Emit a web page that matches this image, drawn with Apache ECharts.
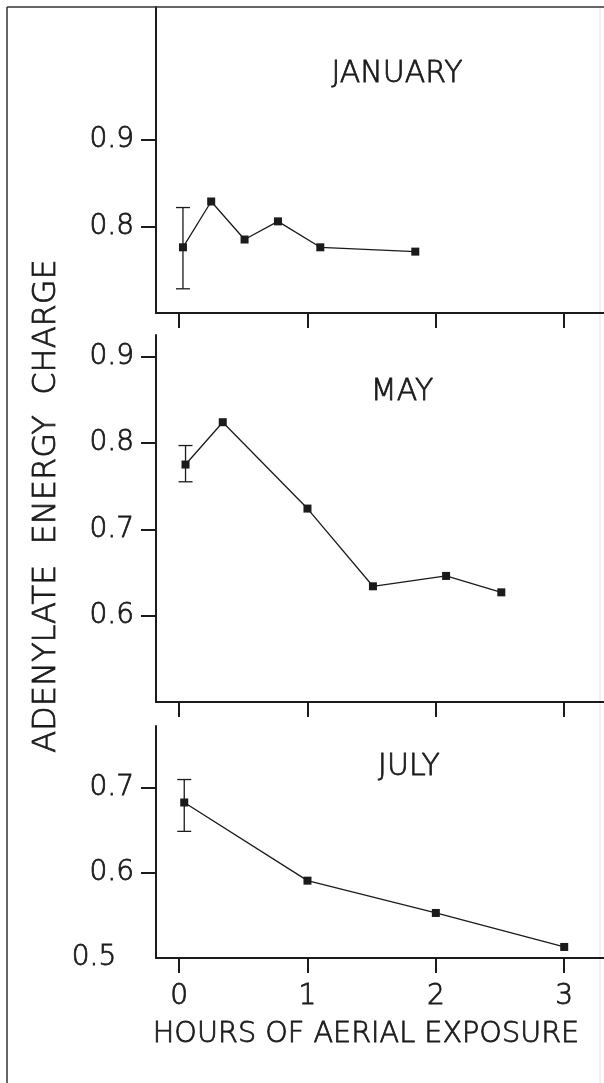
<!DOCTYPE html>
<html>
<head>
<meta charset="utf-8">
<script src="https://cdn.jsdelivr.net/npm/echarts@6/dist/echarts.min.js"></script>
<style>
html,body{margin:0;padding:0;background:#fff;}
#chart{width:604px;height:1083px;}
</style>
</head>
<body>
<div id="chart"></div>
<script>
// ---- data ----
const panelTitles = ['JANUARY', 'MAY', 'JULY'];
const xTicks = [0, 1, 2, 3];

const janX = [0.03, 0.25, 0.51, 0.77, 1.10, 1.84];
const janY = [0.776, 0.829, 0.785, 0.806, 0.776, 0.771];
const janErr = [0.03, 0.728, 0.822];   // [x, low, high]

const mayX = [0.05, 0.34, 1.00, 1.51, 2.08, 2.51];
const mayY = [0.775, 0.824, 0.724, 0.634, 0.646, 0.627];
const mayErr = [0.05, 0.755, 0.797];

const julX = [0.04, 1.00, 2.00, 3.00];
const julY = [0.683, 0.591, 0.553, 0.513];
const julErr = [0.04, 0.649, 0.710];

const janYTicks = [0.8, 0.9];
const mayYTicks = [0.6, 0.7, 0.8, 0.9];
const julYTicks = [0.6, 0.7];
const julYLabels = [0.5, 0.6, 0.7];

const xTitle = 'HOURS OF AERIAL EXPOSURE';
const yTitle = 'ADENYLATE  ENERGY  CHARGE';

// ---- styling ----
const INK = '#1c1a1a';
const FONT = "'DejaVu Sans', sans-serif";
const WEIGHT = 200;
const TB = 0.8; // slight text stroke to match the scanned glyph weight

function pairs(xs, ys) { return xs.map((x, i) => [x, ys[i]]); }

function makeGrid(top, height) {
  return { left: 156, top: top, width: 448, height: height, containLabel: false, outerBoundsMode: 'none' };
}

function makeX(idx, showLabels) {
  return {
    type: 'value', gridIndex: idx, min: -0.18, max: 3.31,
    splitLine: { show: false },
    axisLine: { show: true, onZero: false, lineStyle: { color: INK, width: 2 } },
    axisTick: { show: true, inside: false, length: 15, customValues: xTicks, lineStyle: { color: INK, width: 2 } },
    axisLabel: {
      show: showLabels, customValues: xTicks, margin: 25,
      fontFamily: FONT, fontSize: 28, fontWeight: WEIGHT, color: INK,
      textBorderColor: INK, textBorderWidth: TB,
      formatter: v => String(v)
    }
  };
}

function makeY(idx, min, max, ticks, labels) {
  return {
    type: 'value', gridIndex: idx, min: min, max: max,
    splitLine: { show: false },
    axisLine: { show: true, onZero: false, lineStyle: { color: INK, width: 2 } },
    axisTick: { show: true, inside: false, length: 15, customValues: ticks, lineStyle: { color: INK, width: 2 } },
    axisLabel: {
      show: true, customValues: labels, margin: 22,
      fontFamily: FONT, fontSize: 28, fontWeight: WEIGHT, color: INK,
      textBorderColor: INK, textBorderWidth: TB,
      formatter: v => (Math.abs(v - 0.5) < 1e-6 ? '0.5  ' : v.toFixed(1))
    }
  };
}

function lineSeries(idx, xs, ys) {
  return {
    type: 'line', xAxisIndex: idx, yAxisIndex: idx,
    data: pairs(xs, ys),
    symbol: 'rect', symbolSize: 8,
    itemStyle: { color: INK },
    lineStyle: { color: INK, width: 1.3 },
    animation: false, z: 3
  };
}

function errSeries(idx, err) {
  return {
    type: 'custom', xAxisIndex: idx, yAxisIndex: idx,
    data: [err],
    renderItem: function (params, api) {
      const x = api.value(0);
      const lo = api.coord([x, api.value(1)]);
      const hi = api.coord([x, api.value(2)]);
      const cw = 7;
      const st = { stroke: INK, lineWidth: 1.3 };
      return {
        type: 'group',
        children: [
          { type: 'line', shape: { x1: lo[0], y1: lo[1], x2: hi[0], y2: hi[1] }, style: st },
          { type: 'line', shape: { x1: lo[0] - cw, y1: lo[1], x2: lo[0] + cw, y2: lo[1] }, style: st },
          { type: 'line', shape: { x1: hi[0] - cw, y1: hi[1], x2: hi[0] + cw, y2: hi[1] }, style: st }
        ]
      };
    },
    animation: false, z: 2
  };
}

function label(text, x, y, size, rot) {
  return {
    type: 'text', x: x, y: y, rotation: rot || 0,
    style: {
      text: text, font: WEIGHT + ' ' + size + 'px ' + FONT, fill: INK,
      stroke: INK, lineWidth: TB,
      textAlign: 'center', textVerticalAlign: 'middle'
    },
    z: 10
  };
}

const chart = echarts.init(document.getElementById('chart'), null, { renderer: 'canvas' });
chart.setOption({
  backgroundColor: '#fff',
  animation: false,
  grid: [makeGrid(7, 306), makeGrid(335, 367), makeGrid(726, 232)],
  xAxis: [makeX(0, false), makeX(1, false), makeX(2, true)],
  yAxis: [
    makeY(0, 0.7, 1.054, janYTicks, janYTicks),
    makeY(1, 0.5, 0.925, mayYTicks, mayYTicks),
    makeY(2, 0.5, 0.773, julYTicks, julYLabels)
  ],
  series: [
    lineSeries(0, janX, janY), errSeries(0, janErr),
    lineSeries(1, mayX, mayY), errSeries(1, mayErr),
    lineSeries(2, julX, julY), errSeries(2, julErr)
  ],
  graphic: [
    // figure frame (left and top edges) and faint right edge of the scan
    { type: 'line', shape: { x1: 7, y1: 7, x2: 604, y2: 7 }, style: { stroke: '#333', lineWidth: 1.5 }, z: 1 },
    { type: 'line', shape: { x1: 7, y1: 7, x2: 7, y2: 1083 }, style: { stroke: '#333', lineWidth: 1.5 }, z: 1 },
    { type: 'line', shape: { x1: 600, y1: 7, x2: 600, y2: 1083 }, style: { stroke: '#e4e4e4', lineWidth: 1 }, z: 0 },
    label(panelTitles[0], 397, 74, 30),
    label(panelTitles[1], 402, 392, 30),
    label(panelTitles[2], 409, 767, 30),
    label(xTitle, 366, 1035, 28.7),
    label(yTitle, 47, 506, 32, Math.PI / 2)
  ]
});
</script>
</body>
</html>
